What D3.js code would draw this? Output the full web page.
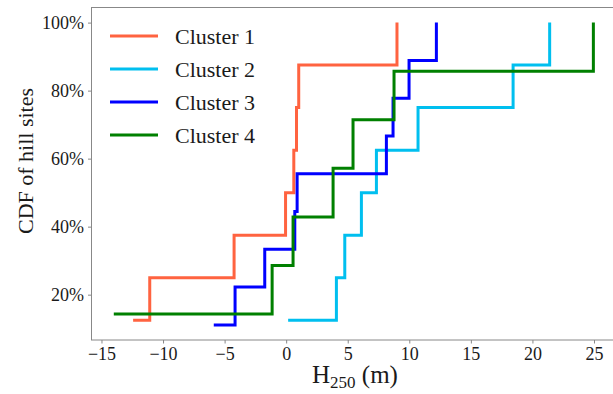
<!DOCTYPE html>
<html>
<head>
<meta charset="utf-8">
<script src="https://cdn.jsdelivr.net/npm/d3@7"></script>
<style>
  body { margin: 0; background: #fff; }
  text { font-family: "Liberation Serif", "Times New Roman", serif; fill: #1a1a1a; }
</style>
</head>
<body>
<div id="chart"></div>
<script>
// sorted H250 values per cluster (m)
const cluster1 = [-12.43, -11.08, -4.23, -0.05, 0.62, 0.84, 1.02, 9.0];
const cluster2 = [0.16, 4.08, 4.76, 6.11, 7.33, 10.71, 18.43, 21.4];
const cluster3 = [-5.88, -4.15, -1.74, 0.70, 0.89, 8.14, 8.68, 9.98, 12.2];
const cluster4 = [-14.0, -1.14, 0.56, 3.81, 5.43, 8.76, 24.95];

const names = ["Cluster 1", "Cluster 2", "Cluster 3", "Cluster 4"];
const colors = ["#ff6340", "#00bfef", "#0000ff", "#008000"];
const xTicks = [-15, -10, -5, 0, 5, 10, 15, 20, 25];
const yTicks = [20, 40, 60, 80, 100];

const width = 613, height = 394;
const mLeft = 91.5, mTop = 7.5, mRight = 618, mBottom = 340;

const svg = d3.select("#chart").append("svg")
    .attr("width", width)
    .attr("height", height);

const x = d3.scaleLinear().domain([-15.81, 26.95]).range([mLeft, mRight]);
const y = d3.scaleLinear().domain([6.67, 104.44]).range([mBottom, mTop]);

// ecdf points
const series = [cluster1, cluster2, cluster3, cluster4].map(v =>
    v.map((d, i) => [d, 100 * (i + 1) / v.length]));

const line = d3.line()
    .x(d => x(d[0]))
    .y(d => y(d[1]))
    .curve(d3.curveStepAfter);

svg.append("g").selectAll("path")
    .data(series)
    .join("path")
    .attr("d", line)
    .attr("fill", "none")
    .attr("stroke", (d, i) => colors[i])
    .attr("stroke-width", 3);

// frame
svg.append("rect")
    .attr("x", mLeft).attr("y", mTop)
    .attr("width", mRight - mLeft).attr("height", mBottom - mTop)
    .attr("fill", "none")
    .attr("stroke", "#888")
    .attr("stroke-width", 1);

// axes
const xAxis = svg.append("g")
    .attr("transform", `translate(0,${mBottom})`)
    .call(d3.axisBottom(x).tickValues(xTicks).tickSize(3.5).tickPadding(4)
        .tickFormat(d => d < 0 ? "\u2212" + Math.abs(d) : d));
xAxis.select(".domain").remove();
xAxis.selectAll("line").attr("stroke", "#888");
xAxis.selectAll("text").style("font-size", "18px")
    .style("font-family", "Liberation Serif").attr("fill", "#1a1a1a");

const yAxis = svg.append("g")
    .attr("transform", `translate(${mLeft},0)`)
    .call(d3.axisLeft(y).tickValues(yTicks).tickSize(3.5).tickPadding(4)
        .tickFormat(d => d + "%"));
yAxis.select(".domain").remove();
yAxis.selectAll("line").attr("stroke", "#888");
yAxis.selectAll("text").style("font-size", "18px")
    .style("font-family", "Liberation Serif").attr("fill", "#1a1a1a");

// axis titles
svg.append("text")
    .attr("transform", `translate(33,161) rotate(-90)`)
    .attr("text-anchor", "middle")
    .style("font-size", "22px")
    .text("CDF of hill sites");

const xt = svg.append("text")
    .attr("x", 355).attr("y", 383)
    .attr("text-anchor", "middle")
    .style("font-size", "25px");
xt.append("tspan").text("H");
xt.append("tspan").attr("dy", 5).style("font-size", "17px").text("250");
xt.append("tspan").attr("dy", -5).text(" (m)");

// legend
const legend = svg.append("g").selectAll("g")
    .data(names)
    .join("g")
    .attr("transform", (d, i) => `translate(110,${36 + i * 33})`);
legend.append("line")
    .attr("x1", 0).attr("x2", 48)
    .attr("stroke", (d, i) => colors[i])
    .attr("stroke-width", 3);
legend.append("text")
    .attr("x", 65).attr("dy", "0.35em")
    .style("font-size", "22px")
    .text(d => d);
</script>
</body>
</html>
